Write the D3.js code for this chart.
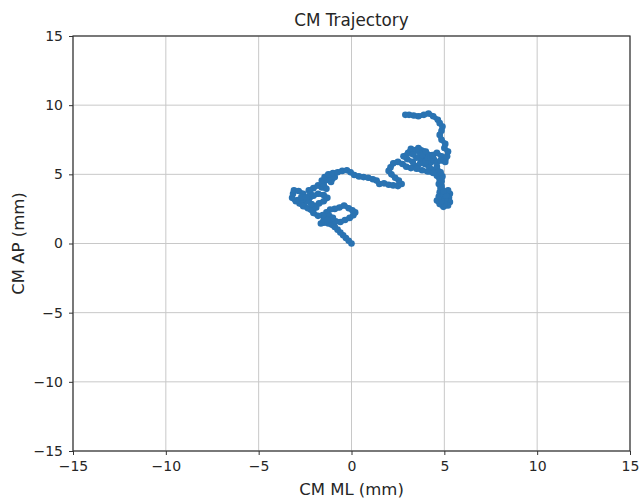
<!DOCTYPE html>
<html>
<head>
<meta charset="utf-8">
<script src="https://cdn.jsdelivr.net/npm/d3@7"></script>
<style>
  body { margin: 0; background: #fff; }
  text { font-family: "DejaVu Sans", sans-serif; fill: #262626; }
</style>
</head>
<body>
<div class="viz"></div>
<script>
// CM trajectory (mm)
var mlX = [0, -0.15, -0.3, -0.45, -0.6, -0.75, -0.9, -1.05, -1.25, -1.5,
  -1.65, -1.5, -1.35, -1.1, -0.85, -0.6, -0.35, -0.1, 0.1, 0.2,
  0.05, -0.15, -0.4, -0.65, -0.9, -1.15, -1.35, -1.2, -1.0, -1.3,
  -1.55, -1.8, -2.05, -2.2, -2.0, -1.75, -1.5, -1.3, -1.5, -1.8,
  -2.05, -2.3, -2.55, -2.8,
  -2.6, -2.35, -2.1, -1.9, -2.15, -2.4, -2.65, -2.9,
  -3.0, -3.2, -3.15, -3.1, -2.85, -2.6, -2.7, -2.45, -2.2, -2.3,
  -2.05, -1.8, -1.6, -1.35, -1.5, -1.6, -1.35, -1.1, -0.9, -1.2,
  -1.45, -1.25, -1.0, -0.75, -0.5, -0.25, -0.05, 0.15, 0.4, 0.65,
  0.9, 1.15, 1.35, 1.5, 1.75, 2.0, 2.25, 2.5, 2.7, 2.55,
  2.35, 2.15, 2.0, 2.1, 2.25, 2.5, 2.75, 2.95, 3.2, 3.45,
  3.3, 3.0, 2.8, 3.05, 3.2, 3.45, 3.7, 3.9, 3.75, 3.95,
  4.2, 4.45, 4.6,
  4.7, 4.6, 4.75, 4.7, 4.8, 4.75, 4.9, 5.1, 5.3, 5.25,
  5.3, 5.2, 4.95, 4.75, 4.6, 4.8, 5.05, 5.0, 4.85, 4.7,
  4.95, 5.2, 5.1, 4.95, 4.85, 4.85, 4.9, 4.8,
  4.4, 4.1, 3.8, 3.5, 3.7, 4.0, 4.3, 4.1, 3.8, 3.5, 3.3, 3.6,
  4.0, 4.25, 4.4, 4.6, 4.35, 4.6, 4.85, 4.8, 5.05, 5.15,
  5.2, 5.0, 5.05, 4.85, 4.75, 4.85, 4.9, 4.75, 4.65, 4.4,
  4.15, 3.9, 3.6, 3.35, 3.1, 2.9];
var apY = [0, 0.2, 0.4, 0.6, 0.8, 1.0, 1.2, 1.35, 1.45, 1.5,
  1.45, 1.7, 1.9, 1.75, 1.6, 1.55, 1.7, 1.85, 2.05, 2.25,
  2.4, 2.55, 2.75, 2.6, 2.5, 2.45, 2.25, 2.0, 1.85, 1.7,
  2.05, 2.0, 2.2, 2.45, 2.7, 2.9, 3.05, 3.3, 3.5, 3.6,
  3.45, 3.2, 2.95, 2.9,
  2.7, 2.55, 2.4, 2.6, 2.85, 3.05, 3.2, 3.15,
  3.05, 3.3, 3.6, 3.85, 3.8, 3.6, 3.35, 3.3, 3.6, 3.85,
  4.0, 4.2, 4.05, 3.95, 4.3, 4.55, 4.6, 4.45, 4.8, 4.75,
  4.8, 5.0, 5.1, 5.15, 5.25, 5.3, 5.15, 4.95, 4.85, 4.8,
  4.75, 4.65, 4.55, 4.3, 4.35, 4.25, 4.2, 4.15, 4.3, 4.55,
  4.75, 5.0, 5.25, 5.5, 5.8, 5.9, 5.75, 5.55, 5.45, 5.6,
  5.9, 6.1, 6.3, 6.55, 6.85, 6.75, 6.55, 6.3, 6.0, 5.75,
  5.5, 5.3, 5.55,
  5.2, 4.9, 4.6, 4.3, 4.0, 3.7, 3.5, 3.7, 3.6, 3.3,
  3.0, 2.75, 2.65, 2.85, 3.1, 3.3, 3.1, 2.85, 3.05, 3.4,
  3.6, 3.85, 3.45, 3.8, 4.15, 4.5, 4.85, 5.15,
  5.1, 5.2, 5.3, 5.4, 5.8, 5.9, 5.9, 6.2, 6.4, 6.2, 6.45, 6.9,
  6.65, 6.35, 6.05, 5.85, 6.4, 6.55, 6.3, 6.0, 5.9, 6.3,
  6.65, 6.9, 7.2, 7.5, 7.85, 8.15, 8.45, 8.7, 8.95, 9.2,
  9.4, 9.3, 9.2, 9.25, 9.3, 9.3];
var ticks = [-15, -10, -5, 0, 5, 10, 15];

var width = 641, height = 499;
var margin = { top: 36, right: 11, bottom: 48, left: 73 };

var svg = d3.select(".viz").append("svg").attr("width", width).attr("height", height);

var x = d3.scaleLinear().domain([-15, 15]).range([margin.left, width - margin.right]);
var y = d3.scaleLinear().domain([-15, 15]).range([height - margin.bottom, margin.top]);

var fmt = function (d) { return d < 0 ? "\u2212" + Math.abs(d) : String(d); };

// grid
svg.append("g").selectAll("line").data(ticks).enter().append("line")
  .attr("x1", function (d) { return x(d); }).attr("x2", function (d) { return x(d); })
  .attr("y1", y.range()[0]).attr("y2", y.range()[1])
  .attr("stroke", "#c8c8c8").attr("stroke-width", 1);
svg.append("g").selectAll("line").data(ticks).enter().append("line")
  .attr("y1", function (d) { return y(d); }).attr("y2", function (d) { return y(d); })
  .attr("x1", x.range()[0]).attr("x2", x.range()[1])
  .attr("stroke", "#c8c8c8").attr("stroke-width", 1);

// trajectory
var pts = mlX.map(function (v, i) { return [v, apY[i]]; });
svg.append("path")
  .datum(pts)
  .attr("fill", "none")
  .attr("stroke", "#2a73b2")
  .attr("stroke-width", 5)
  .attr("stroke-linejoin", "round")
  .attr("stroke-linecap", "round")
  .attr("d", d3.line().x(function (d) { return x(d[0]); }).y(function (d) { return y(d[1]); }));
svg.append("g").selectAll("circle").data(pts).enter().append("circle")
  .attr("cx", function (d) { return x(d[0]); })
  .attr("cy", function (d) { return y(d[1]); })
  .attr("r", 3.3)
  .attr("fill", "#2a73b2");

// axes
svg.append("g").attr("transform", "translate(0," + y.range()[0] + ")")
  .call(d3.axisBottom(x).tickValues(ticks).tickFormat(fmt).tickSize(4).tickPadding(6));
svg.append("g").attr("transform", "translate(" + x.range()[0] + ",0)")
  .call(d3.axisLeft(y).tickValues(ticks).tickFormat(fmt).tickSize(4).tickPadding(6));
svg.selectAll(".domain").remove();
svg.selectAll(".tick line").attr("stroke", "#333").attr("stroke-width", 1);
svg.selectAll(".tick text").attr("font-size", 14).attr("font-family", "DejaVu Sans").attr("fill", "#262626");

// frame
svg.append("rect")
  .attr("x", x.range()[0]).attr("y", y.range()[1])
  .attr("width", x.range()[1] - x.range()[0])
  .attr("height", y.range()[0] - y.range()[1])
  .attr("fill", "none").attr("stroke", "#333").attr("stroke-width", 1.2);

// titles
svg.append("text").attr("x", x(0)).attr("y", 25.5).attr("text-anchor", "middle")
  .attr("font-size", 16.8).text("CM Trajectory");
svg.append("text").attr("x", x(0)).attr("y", 495).attr("text-anchor", "middle")
  .attr("font-size", 16.5).text("CM ML (mm)");
svg.append("text").attr("transform", "translate(23.5," + y(0) + ") rotate(-90)").attr("text-anchor", "middle")
  .attr("font-size", 16.5).text("CM AP (mm)");
</script>
</body>
</html>
